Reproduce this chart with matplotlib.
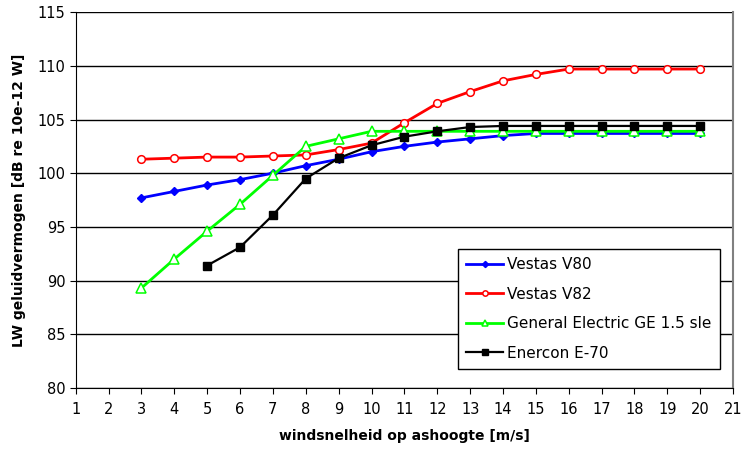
import matplotlib
matplotlib.use("Agg")
import matplotlib.pyplot as plt

wind = list(range(3, 21))
wind_e70 = list(range(5, 21))

vestas_v80 = [97.7, 98.3, 98.9, 99.4, 100.0, 100.7, 101.3, 102.0, 102.5, 102.9,
              103.2, 103.5, 103.7, 103.7, 103.7, 103.7, 103.7, 103.7]
vestas_v82 = [101.3, 101.4, 101.5, 101.5, 101.6, 101.7, 102.2, 102.8, 104.7, 106.5,
              107.6, 108.6, 109.2, 109.7, 109.7, 109.7, 109.7, 109.7]
ge_15sle = [89.3, 92.0, 94.6, 97.1, 99.8, 102.5, 103.2, 103.9, 103.9, 103.9,
            103.9, 103.9, 103.9, 103.9, 103.9, 103.9, 103.9, 103.9]
enercon_e70 = [91.4, 93.1, 96.1, 99.5, 101.4, 102.6, 103.4, 103.9, 104.3, 104.4,
               104.4, 104.4, 104.4, 104.4, 104.4, 104.4]

plt.rcParams['font.family'] = ['DejaVu Sans']

fig = plt.figure(figsize=(7.42, 4.5), dpi=100)
ax = fig.add_axes([0.102, 0.138, 0.886, 0.835])

ax.plot(wind, vestas_v80, color='#0000ff', marker='D', markersize=4.5, lw=2, label='Vestas V80')
ax.plot(wind, vestas_v82, color='#ff0000', marker='o', markersize=5.5, lw=2,
        markerfacecolor='white', markeredgewidth=1.1, label='Vestas V82')
ax.plot(wind, ge_15sle, color='#00ff00', marker='^', markersize=6.5, lw=2,
        markerfacecolor='white', markeredgewidth=1.1, label='General Electric GE 1.5 sle')
ax.plot(wind_e70, enercon_e70, color='black', marker='s', markersize=5.5, lw=1.6, label='Enercon E-70')

ax.set_xlim(1, 21)
ax.set_ylim(80, 115)
ax.set_xticks(range(1, 22))
ax.set_yticks(range(80, 116, 5))
ax.grid(axis='y', color='black', lw=1)
ax.set_axisbelow(True)
ax.spines['top'].set_visible(False)
ax.spines['right'].set_color('#808080')
ax.spines['right'].set_linewidth(1.5)
ax.tick_params(axis='both', labelsize=10.5, length=4, direction='out', colors='black')
ax.tick_params(axis='x', pad=6)

ax.set_xlabel('windsnelheid op ashoogte [m/s]', fontsize=10, fontweight='bold', labelpad=9)
ax.set_ylabel('LW geluidvermogen [dB re 10e-12 W]', fontsize=10, fontweight='bold', labelpad=8)

leg = ax.legend(loc='lower right', bbox_to_anchor=(0.992, 0.03), fontsize=11,
                frameon=True, fancybox=False, edgecolor='black', borderpad=0.55,
                labelspacing=0.95, handlelength=2.4, handletextpad=0.3, framealpha=1,
                markerscale=0.7)
leg.get_frame().set_linewidth(1)

fig.savefig('out.png', dpi=100)
